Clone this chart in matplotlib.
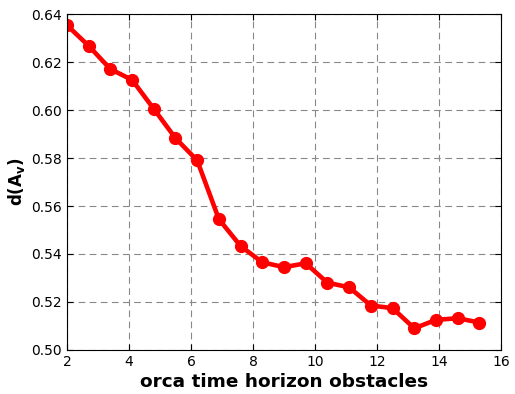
import matplotlib
matplotlib.use("Agg")
import matplotlib.pyplot as plt
import numpy as np

# data
horizon = [2.0, 2.7, 3.4, 4.1, 4.8, 5.5, 6.2, 6.9, 7.6, 8.3,
           9.0, 9.7, 10.4, 11.1, 11.8, 12.5, 13.2, 13.9, 14.6, 15.3]
d_av = [0.6354, 0.6268, 0.6171, 0.6126, 0.6005, 0.5883, 0.5790, 0.5545, 0.5433, 0.5365,
        0.5345, 0.5361, 0.5280, 0.5261, 0.5185, 0.5174, 0.5090, 0.5125, 0.5132, 0.5114]
xticks = [2, 4, 6, 8, 10, 12, 14, 16]
yticks = [0.50, 0.52, 0.54, 0.56, 0.58, 0.60, 0.62, 0.64]

fig = plt.figure(figsize=(5.15, 3.94), dpi=100)
ax = fig.add_axes([0.130, 0.112, 0.843, 0.852])

ax.plot(horizon, d_av, color="red", linewidth=3.3, marker="o", markersize=8.5,
        markeredgecolor="red")

ax.set_xlim(2, 16)
ax.set_ylim(0.50, 0.64)
ax.set_xticks(xticks)
ax.set_yticks(yticks)
ax.set_yticklabels(["%.2f" % v for v in yticks])
ax.tick_params(direction="in", top=True, right=True, labelsize=10, length=4)
ax.grid(True, linestyle="--", color="#888888", linewidth=0.8, dashes=(6, 4))
ax.set_axisbelow(True)

ax.set_xlabel("orca time horizon obstacles", fontsize=13.3, fontweight="bold", labelpad=3)
ax.set_ylabel(r"$\mathbf{d(A_v)}$", fontsize=12, labelpad=3)

fig.savefig("out.png", dpi=100)
